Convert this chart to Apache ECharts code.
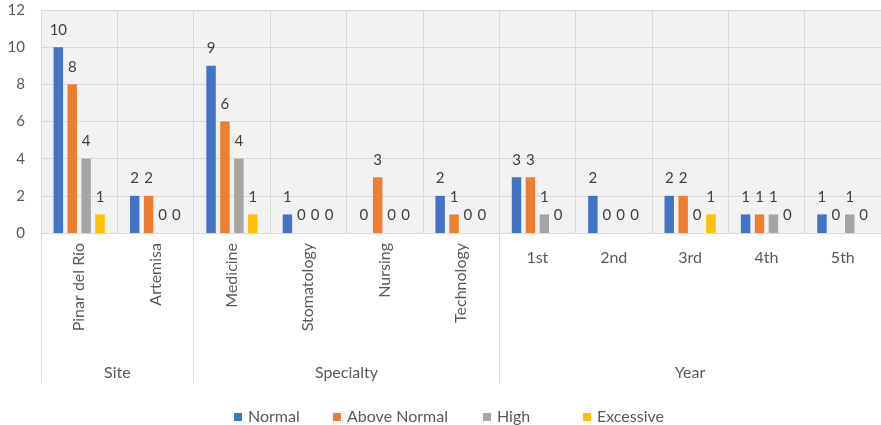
<!DOCTYPE html>
<html>
<head>
<meta charset="utf-8">
<script src="https://cdn.jsdelivr.net/npm/echarts@6/dist/echarts.min.js"></script>
<style>
  html, body { margin: 0; padding: 0; background: #ffffff; }
  #chart { width: 881px; height: 425px; }
</style>
</head>
<body>
<div id="chart"></div>
<script>
// Categories, grouped under Site / Specialty / Year
const categories = ['Pinar del Río', 'Artemisa', 'Medicine', 'Stomatology', 'Nursing', 'Technology', '1st', '2nd', '3rd', '4th', '5th'];
const groupNames = ['Site', 'Specialty', 'Year'];
const groupSizes = [2, 4, 5];

// Counts per classification
const seriesNames = ['Normal', 'Above Normal', 'High', 'Excessive'];
const normal      = [10, 2, 9, 1, 0, 2, 3, 2, 2, 1, 1];
const aboveNormal = [8, 2, 6, 0, 3, 1, 3, 0, 2, 1, 0];
const high        = [4, 0, 4, 0, 0, 0, 1, 0, 0, 1, 1];
const excessive   = [1, 0, 1, 0, 0, 0, 0, 0, 1, 0, 0];

// Y-axis ticks
const yMin = 0, yMax = 12, yStep = 2;

const colors = ['#4472C4', '#ED7D31', '#A5A5A5', '#FFC000'];
const textColor = '#595959';
const gridColor = '#d9d9d9';
const font = 'Lato, "Open Sans", sans-serif';

// Group boundaries (in category units) and group label centres
const boundaries = [0];
groupSizes.forEach(s => boundaries.push(boundaries[boundaries.length - 1] + s));
const centres = groupNames.map((_, i) => (boundaries[i] + boundaries[i + 1]) / 2);
const yearStart = boundaries[2];

const chart = echarts.init(document.getElementById('chart'), null, { renderer: 'canvas' });

const values = [normal, aboveNormal, high, excessive];

const option = {
  animation: false,
  backgroundColor: '#ffffff',
  grid: {
    left: 41, top: 10, width: 841.5, height: 223,
    show: true, backgroundColor: '#f2f2f2', borderWidth: 0
  },
  legend: seriesNames.map((name, i) => ({
    data: [name],
    left: [229, 328, 478, 578][i],
    top: 404,
    itemWidth: 8, itemHeight: 8, itemGap: 0,
    icon: 'rect',
    textStyle: { color: textColor, fontSize: 16, fontFamily: font, padding: [0, 0, 0, 1] }
  })),
  xAxis: [
    {
      // rotated labels for Site and Specialty entries
      type: 'category', position: 'bottom', data: categories,
      axisLine: { show: true, lineStyle: { color: gridColor, width: 1 } },
      axisTick: { show: false },
      splitLine: { show: true, interval: 0, lineStyle: { color: gridColor, width: 1 } },
      axisLabel: {
        interval: 0, rotate: 90, margin: 10,
        color: textColor, fontSize: 16, fontFamily: font,
        formatter: (v, idx) => idx < yearStart ? v : ''
      }
    },
    {
      // horizontal labels for Year entries
      type: 'category', position: 'bottom', data: categories,
      axisLine: { show: false }, axisTick: { show: false }, splitLine: { show: false },
      axisLabel: {
        interval: 0, rotate: 0, margin: 17,
        color: textColor, fontSize: 16, fontFamily: font,
        formatter: (v, idx) => idx >= yearStart ? v : ''
      }
    },
    {
      // group level: separators and group names
      type: 'value', position: 'bottom', min: 0, max: categories.length,
      axisLine: { show: false },
      splitLine: { show: false },
      axisTick: {
        show: true, inside: false, length: 150, customValues: boundaries,
        lineStyle: { color: gridColor, width: 1 }
      },
      axisLabel: {
        show: true, margin: 132, customValues: centres,
        color: textColor, fontSize: 16, fontFamily: font,
        formatter: v => {
          const i = centres.findIndex(c => Math.abs(c - v) < 1e-6);
          return i >= 0 ? groupNames[i] : '';
        }
      }
    }
  ],
  yAxis: {
    type: 'value', min: yMin, max: yMax, interval: yStep,
    axisLine: { show: false }, axisTick: { show: false },
    splitLine: { show: true, lineStyle: { color: gridColor, width: 1 } },
    axisLabel: { margin: 16, color: textColor, fontSize: 15, fontFamily: font }
  },
  series: seriesNames.map((name, i) => ({
    name, type: 'bar', xAxisIndex: 0,
    data: values[i],
    barGap: '47%', barCategoryGap: '33%',
    itemStyle: { color: colors[i] },
    label: {
      show: true, position: 'top', distance: 10,
      color: '#404040', fontSize: 15, fontFamily: font
    }
  }))
};

chart.setOption(option);
</script>
</body>
</html>
